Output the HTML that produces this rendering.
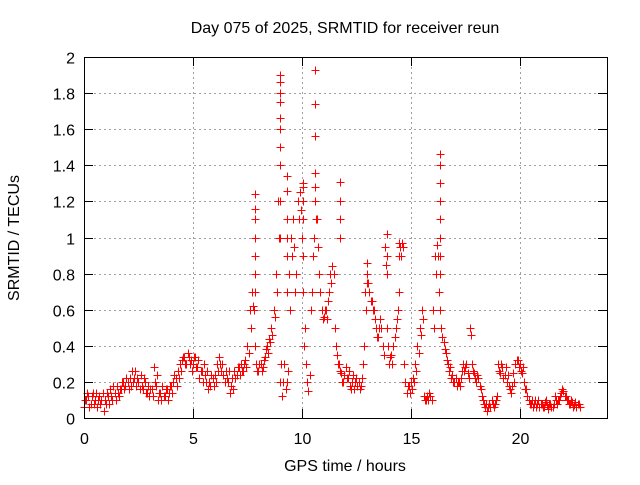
<!DOCTYPE html>
<html><head><meta charset="utf-8"><style>
body{margin:0;background:#fff}
svg text{font-family:"Liberation Sans",sans-serif;font-size:16px;fill:#000}
</style></head><body>
<svg width="640" height="480">
<text x="345" y="33" text-anchor="middle">Day 075 of 2025, SRMTID for receiver reun</text>
<text x="345" y="471" text-anchor="middle">GPS time / hours</text>
<text transform="translate(19,238) rotate(-90)" text-anchor="middle">SRMTID / TECUs</text>
<g id="grid"></g>
<g id="marks"></g>
<rect x="84.5" y="57.5" width="523" height="361" fill="none" stroke="#000"/>
<g id="axes"></g>
</svg>
<script>
const xTicks=[0,5,10,15,20];
const yTicks=[0,0.2,0.4,0.6,0.8,1,1.2,1.4,1.6,1.8,2];
const yTickLabels=["0","0.2","0.4","0.6","0.8","1","1.2","1.4","1.6","1.8","2"];
const t0=0, dt=0.1;
const vals=[0.06,0.1,0.12,0.08,0.14,0.1,0.06,0.12,0.1,0.04,
0.08,0.12,0.16,0.1,0.14,0.18,0.12,0.16,0.2,0.18,
0.2,0.22,0.26,0.22,0.18,0.2,0.24,0.16,0.2,0.14,
0.12,0.16,0.28,0.18,0.1,0.14,0.18,0.12,0.16,0.14,
0.18,0.2,0.22,0.26,0.3,0.32,0.34,0.3,0.34,0.32,
0.3,0.34,0.28,0.22,0.26,0.3,0.2,0.16,0.18,0.22,
0.24,0.3,0.34,0.26,0.24,0.26,0.2,0.14,0.22,0.26,
0.24,0.28,0.3,0.26,0.32,0.4,0.6,0.7,0.6,0.3,
0.26,0.3,0.28,0.34,0.4,0.44,0.5,0.6,0.8,1.2,
0.2,0.12,0.3,0.2,0.8,1.0,1.1,0.7,1.2,1.25,
1.0,0.4,0.3,0.15,0.6,0.9,1.2,1.1,0.8,0.6,
0.56,0.6,0.65,0.8,0.84,0.5,0.35,0.3,0.25,0.2,
0.28,0.22,0.18,0.2,0.16,0.22,0.2,0.18,0.3,0.7,
0.8,0.7,0.65,0.6,0.5,0.45,0.55,0.4,0.95,0.5,
0.3,0.35,0.4,0.5,0.6,0.95,0.97,0.3,0.14,0.18,
0.2,0.22,0.3,0.4,0.5,0.6,0.12,0.1,0.1,0.12,
0.6,0.9,0.96,0.7,0.5,0.42,0.36,0.3,0.28,0.24,
0.2,0.18,0.2,0.22,0.3,0.28,0.25,0.5,0.3,0.25,
0.2,0.22,0.16,0.1,0.06,0.04,0.08,0.1,0.06,0.1,
0.3,0.25,0.28,0.24,0.2,0.18,0.14,0.25,0.3,0.32,
0.3,0.25,0.2,0.16,0.1,0.08,0.06,0.1,0.08,0.06,
0.08,0.06,0.1,0.05,0.08,0.06,0.12,0.08,0.1,0.14,
0.15,0.12,0.1,0.08,0.09,0.07,0.06,0.08];
const vals2=[0.1,0.14,0.06,0.12,0.08,0.14,0.1,0.08,0.14,0.1,
0.14,0.08,0.12,0.18,0.1,0.14,0.16,0.2,0.16,0.22,
0.16,0.18,0.2,0.26,0.22,0.16,0.18,0.22,0.14,0.18,
0.16,0.12,0.2,0.24,0.14,0.1,0.12,0.16,0.1,0.18,
0.14,0.24,0.18,0.22,0.26,0.34,0.3,0.36,0.3,0.26,
0.34,0.28,0.32,0.26,0.2,0.24,0.26,0.2,0.24,0.18,
0.2,0.26,0.3,0.3,0.2,0.22,0.26,0.18,0.16,0.22,
0.28,0.24,0.26,0.3,0.28,0.36,0.5,0.62,0.4,0.26,
0.3,0.26,0.32,0.38,0.36,0.42,0.46,0.56,0.7,1.0,
0.3,0.2,0.16,0.26,0.6,0.9,0.95,0.8,1.1,1.15,
0.9,0.5,0.2,0.24,0.7,1.0,1.1,0.95,0.7,0.55,
0.6,0.55,0.7,0.75,0.8,0.4,0.3,0.26,0.2,0.24,
0.22,0.26,0.16,0.24,0.2,0.18,0.16,0.22,0.4,0.6,
0.75,0.65,0.6,0.55,0.45,0.5,0.5,0.35,0.85,0.4,
0.34,0.3,0.45,0.55,0.7,0.9,0.95,0.2,0.18,0.14,
0.16,0.2,0.26,0.36,0.46,0.55,0.1,0.12,0.14,0.1,
0.5,0.8,0.9,0.6,0.45,0.38,0.32,0.26,0.22,0.2,
0.22,0.2,0.18,0.26,0.26,0.3,0.22,0.46,0.26,0.22,
0.24,0.18,0.12,0.08,0.08,0.06,0.06,0.08,0.08,0.12,
0.26,0.3,0.22,0.28,0.24,0.16,0.18,0.2,0.32,0.28,
0.26,0.28,0.16,0.12,0.08,0.1,0.08,0.06,0.1,0.08,
0.06,0.09,0.07,0.08,0.06,0.08,0.1,0.1,0.12,0.16,
0.12,0.1,0.08,0.1,0.06,0.09,0.08,0.06];
const spikeT=[7.85,7.85,7.85,7.85,7.85,7.85,7.85,
9.0,9.0,9.0,9.0,9.0,9.0,9.0,9.0,9.0,9.0,
9.3,9.3,9.3,9.3,9.3,9.3,
10.05,10.05,10.05,10.05,10.05,10.05,
10.6,10.6,10.6,10.6,10.6,
11.75,11.75,11.75,11.75,
13.9,13.9,13.9,14.45,14.45,
16.35,16.35,16.35,16.35,16.35,16.35,16.35,16.35,
13.0,13.0,13.0];
const spikeV=[0.7,0.8,0.9,1.0,1.1,1.16,1.24,
1.0,1.2,1.4,1.5,1.6,1.66,1.75,1.8,1.86,1.9,
1.26,1.34,1.1,1.0,0.9,0.7,
1.3,1.28,1.2,1.1,0.9,0.7,
1.93,1.74,1.56,1.36,1.28,
1.31,1.2,1.1,1.0,
1.02,0.9,0.8,0.9,0.97,
1.46,1.4,1.3,1.2,1.1,1.0,0.9,0.8,
0.86,0.8,0.75];
const X=v=>84+v*523/24, Y=v=>418-v*180.5;
const NS="http://www.w3.org/2000/svg";
function mk(tag,attrs,parent){const e=document.createElementNS(NS,tag);for(const k in attrs)e.setAttribute(k,attrs[k]);parent.appendChild(e);return e;}
const grid=document.getElementById('grid'),axes=document.getElementById('axes'),marks=document.getElementById('marks');
xTicks.forEach(v=>{const x=Math.round(X(v))+0.5;
 if(v>0){const g=mk('line',{x1:x,x2:x,y1:57,y2:418,stroke:'#a0a0a0','stroke-dasharray':'2,3'},grid);}
 mk('line',{x1:x,x2:x,y1:418,y2:409,stroke:'#000'},axes);mk('line',{x1:x,x2:x,y1:57,y2:66,stroke:'#000'},axes);
 const t=mk('text',{x:x,y:444,'text-anchor':'middle'},axes);t.textContent=v;
 
 });
yTicks.forEach((v,i)=>{const y=Math.round(Y(v))+0.5;
 if(v>0&&v<2){const g=mk('line',{x1:84,x2:607,y1:y,y2:y,stroke:'#a0a0a0','stroke-dasharray':'2,3'},grid);}
 mk('line',{x1:84,x2:93,y1:y,y2:y,stroke:'#000'},axes);mk('line',{x1:598,x2:607,y1:y,y2:y,stroke:'#000'},axes);
 const t=mk('text',{x:75,y:y+6,'text-anchor':'end'},axes);t.textContent=yTickLabels[i];
 
 });
function plus(t,v,c){const x=Math.round(X(t))+0.5,y=Math.round(Y(v))+0.5;
 const p=mk('path',{d:`M${x-4},${y}H${x+4}M${x},${y-4}V${y+4}`,stroke:c,'stroke-width':1,fill:'none'},marks);
 
 }
vals2.forEach((v,i)=>plus(t0+i*dt+0.05,v,'#ff0000'));
vals.forEach((v,i)=>plus(t0+i*dt,v,'#ff0000'));
spikeT.forEach((t,i)=>plus(t,spikeV[i],'#ff0000'));
</script>
</body></html>
